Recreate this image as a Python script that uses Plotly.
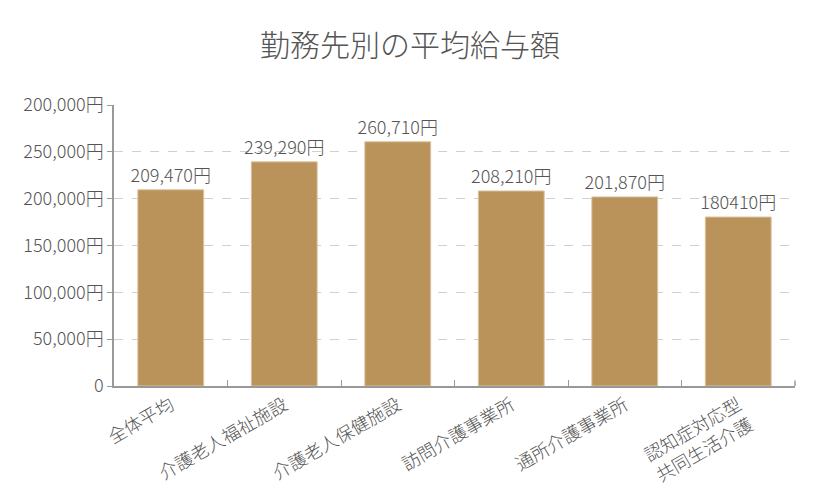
import plotly.graph_objects as go

categories = ["全体平均", "介護老人福祉施設", "介護老人保健施設", "訪問介護事業所", "通所介護事業所", "認知症対応型<br>共同生活介護"]
values = [209470, 239290, 260710, 208210, 201870, 180410]
bar_labels = ["209,470円", "239,290円", "260,710円", "208,210円", "201,870円", "180410円"]
y_tickvals = [0, 50000, 100000, 150000, 200000, 250000, 300000]
y_ticktext = ["0", "50,000円", "100,000円", "150,000円", "200,000円", "250,000円", "200,000円"]

FONT = "Noto Sans CJK JP"
GRAY = "#555555"

fig = go.Figure(go.Bar(
    x=categories, y=values, text=bar_labels, textposition="outside",
    constraintext="none",
    textfont=dict(size=18, color=GRAY, family=FONT, weight=300),
    marker=dict(color="#B9935A", line=dict(color="#D9C3A0", width=1)),
    cliponaxis=False, hoverinfo="skip",
))

fig.update_layout(
    width=820, height=500,
    margin=dict(l=114, r=25, t=105, b=114),
    paper_bgcolor="white", plot_bgcolor="white",
    bargap=0.42,
    showlegend=False,
    font=dict(family=FONT, color=GRAY, size=16, weight=300),
    title=dict(text="勤務先別の平均給与額", x=0.5, xanchor="center", y=0.91, yanchor="middle",
               font=dict(size=30, color=GRAY, family=FONT, weight=300)),
)
fig.update_xaxes(
    showline=True, linecolor="#999999", linewidth=1.5,
    ticks="inside", ticklen=6, tickcolor="#999999", tickson="boundaries",
    tickangle=-30, tickfont=dict(size=18, color=GRAY, family=FONT, weight=300),
    showgrid=False, mirror=False,
)
fig.update_yaxes(
    range=[0, 300000], tickvals=y_tickvals, ticktext=y_ticktext,
    showline=True, linecolor="#999999", linewidth=1.5,
    ticks="outside", ticklen=5, tickcolor="#999999",
    showgrid=True, gridcolor="#D0D0D0", griddash="dash", gridwidth=1,
    tickfont=dict(size=18, color=GRAY, family=FONT, weight=300),
    zeroline=False,
)
fig.add_shape(type="line", xref="paper", yref="paper", x0=1, x1=1, y0=0, y1=0.02,
              line=dict(color="#999999", width=1.5))

fig.write_html("out.html")
